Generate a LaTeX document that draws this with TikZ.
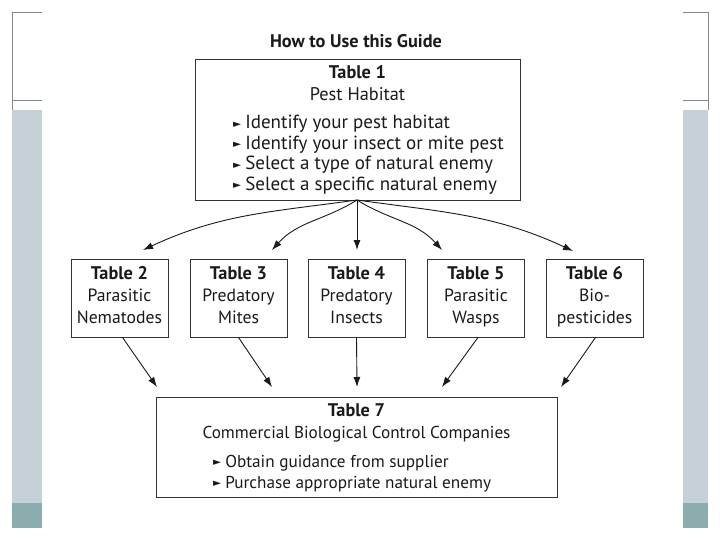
\documentclass[tikz,border=0pt]{standalone}
\usepackage{fontspec}
\setmainfont{PT Sans}
\newfontfamily\symf{DejaVu Sans}
\usetikzlibrary{arrows.meta}
\definecolor{deco}{HTML}{7F8A8E}
\definecolor{band}{HTML}{C5D1D6}
\definecolor{bandteal}{HTML}{8BADAD}
\definecolor{ink}{HTML}{1A1A1A}
\newcommand{\bul}{\raisebox{1.6pt}{\symf\fontsize{10.5}{10.5}\selectfont ►}\hspace{4pt}}
\begin{document}
\begin{tikzpicture}[x=1pt,y=-1pt,
  box/.style={draw=black!80,line width=0.9pt,inner sep=0pt},
  txt/.style={anchor=base,inner sep=0pt,text=ink},
  fa/.style={font=\fontsize{19}{22}\selectfont},
  fb/.style={font=\fontsize{18.3}{22}\selectfont},
  fm/.style={font=\fontsize{17.7}{22}\selectfont},
  fc/.style={font=\fontsize{17.2}{21}\selectfont},
  bold/.style={txt,font=\fontsize{18.3}{22}\selectfont\bfseries},
  bullet/.style={txt,anchor=base west},
  arr/.style={-{Latex[length=10pt,width=7pt]},line width=0.9pt,draw=ink}]
\useasboundingbox (0,0) rectangle (720,540);
\fill[white] (0,0) rectangle (720,540);
% slide decorations
\fill[band] (12,110) rectangle (42,503);
\fill[bandteal] (12,503) rectangle (42,528);
\fill[band] (683,110) rectangle (708,503);
\fill[bandteal] (683,503) rectangle (708,528);
\draw[deco,line width=0.8pt] (42,12) -- (12,12) -- (12,110);
\draw[deco,line width=0.8pt] (12,100) -- (42,100);
\draw[deco,line width=0.8pt] (683,12) -- (708,12) -- (708,110);
\draw[deco,line width=0.8pt] (683,100) -- (708,100);
% title
\node[bold] (title) at (356,48) {How to Use this Guide};
% Table 1
\node[box,minimum width=325pt,minimum height=141pt] (t1) at (357.5,129.5) {};
\node[bold] (t1a) at (357.5,79) {Table 1};
\node[txt,fb] (t1b) at (357.5,101) {Pest Habitat};
\node[bullet,fa] (t1c) at (233,129) {\bul Identify your pest habitat};
\node[bullet,fa] (t1d) at (233,149.5) {\bul Identify your insect or mite pest};
\node[bullet,fa] (t1e) at (233,170) {\bul Select a type of natural enemy};
\node[bullet,fa] (t1f) at (233,190.5) {\bul Select a specific natural enemy};
% middle boxes
\foreach \n/\x/\a/\b/\c in {2/119.5/Table 2/Parasitic/Nematodes,
                            3/238.5/Table 3/Predatory/Mites,
                            4/356.5/Table 4/Predatory/Insects,
                            5/476.0/Table 5/Parasitic/Wasps,
                            6/594.5/Table 6/Bio-/pesticides}{
  \node[box,minimum width=97pt,minimum height=78pt] (b\n) at (\x,298) {};
  \node[bold] (b\n a) at (\x,279) {\a};
  \node[txt,fm] (b\n b) at (\x,301) {\b};
  \node[txt,fm] (b\n c) at (\x,323) {\c};
}
% Table 7
\node[box,minimum width=401pt,minimum height=100pt] (t7) at (356.5,447) {};
\node[bold] (t7a) at (356.5,416) {Table 7};
\node[txt,fc] (t7b) at (356.5,438) {Commercial Biological Control Companies};
\node[bullet,fc] (t7c) at (213,467) {\bul Obtain guidance from supplier};
\node[bullet,fc] (t7d) at (213,488) {\bul Purchase appropriate natural enemy};
% arrow end points
\coordinate (a2) at (143,250);
\coordinate (a3) at (272,250);
\coordinate (a4) at (357,250);
\coordinate (a5) at (442,250);
\coordinate (a6) at (573,251);
\coordinate (c2) at (157,387);
\coordinate (c3) at (272,387);
\coordinate (c4) at (357,387);
\coordinate (c5) at (442,387);
\coordinate (c6) at (561,387);
\coordinate (s1) at (357,200);
% arrows from Table 1
\draw[arr] (s1) to[out=188,in=25] (a2);
\draw[arr] (s1) to[out=212,in=48] (a3);
\draw[arr] (s1) -- (a4);
\draw[arr] (s1) to[out=-32,in=132] (a5);
\draw[arr] (s1) to[out=-8,in=155] (a6);
% arrows to Table 7
\draw[arr] (b2.south) ++(3,0) -- (c2);
\draw[arr] (b3.south) -- (c3);
\draw[arr] (b4.south) -- (c4);
\draw[arr] (b5.south) ++(2,0) -- (c5);
\draw[arr] (b6.south) ++(1,0) -- (c6);
\end{tikzpicture}
\end{document}
